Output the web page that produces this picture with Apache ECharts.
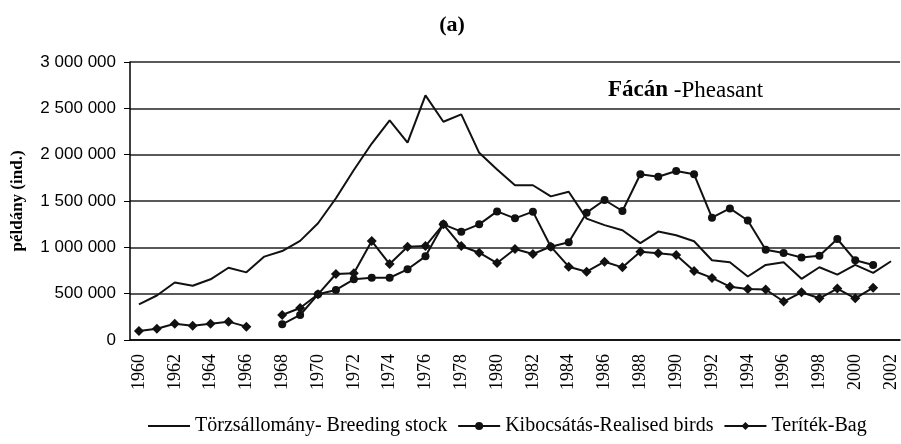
<!DOCTYPE html>
<html>
<head>
<meta charset="utf-8">
<script src="https://cdn.jsdelivr.net/npm/echarts@6/dist/echarts.min.js"></script>
<style>
  html, body { margin: 0; padding: 0; background: #fff; }
  #chart { width: 901px; height: 444px; }
</style>
</head>
<body>
<div id="chart"></div>
<script>
var years = [];
for (var y = 1960; y <= 2002; y++) years.push(String(y));

// Törzsállomány - Breeding stock
var breeding = [385000, 480000, 620000, 585000, 655000, 780000, 730000, 900000, 960000, 1070000,
    1260000, 1530000, 1835000, 2120000, 2370000, 2130000, 2640000, 2355000, 2435000, 2020000,
    1840000, 1670000, 1670000, 1550000, 1600000, 1310000, 1240000, 1185000, 1045000, 1170000,
    1130000, 1065000, 860000, 840000, 685000, 810000, 840000, 660000, 785000, 705000,
    810000, 725000, 850000];

// Kibocsátás - Realised birds
var realised = [null, null, null, null, null, null, null, null, 169000, 270000,
    493000, 540000, 655000, 672000, 672000, 763000, 903000, 1248000, 1169000, 1248000,
    1388000, 1313000, 1385000, 1007000, 1054000, 1374000, 1511000, 1392000, 1788000, 1762000,
    1824000, 1788000, 1320000, 1420000, 1290000, 975000, 940000, 890000, 910000, 1090000,
    860000, 810000, null];

// Teríték - Bag
var bag = [97000, 122000, 176000, 155000, 176000, 198000, 144000, null, 270000, 345000,
    493000, 712000, 720000, 1068000, 820000, 1007000, 1014000, 1248000, 1014000, 942000,
    830000, 982000, 928000, 1007000, 791000, 737000, 845000, 784000, 953000, 935000,
    917000, 745000, 670000, 575000, 550000, 545000, 415000, 515000, 450000, 555000,
    450000, 565000, null];

var serif = '"Liberation Serif", "Times New Roman", serif';

var chart = echarts.init(document.getElementById('chart'));
var option = {
    backgroundColor: '#fff',
    animation: false,
    title: [{
        text: '(a)',
        left: 447,
        top: 9,
        textAlign: 'center',
        textStyle: { fontFamily: serif, fontWeight: 'bold', fontSize: 22, color: '#000' }
    }, {
        text: '{b|Fácán} -Pheasant',
        left: 603,
        top: 74,
        textStyle: {
            fontFamily: serif, fontSize: 23, fontWeight: 'normal', color: '#000',
            rich: { b: { fontFamily: serif, fontSize: 23, fontWeight: 'bold', color: '#000' } }
        }
    }],
    legend: {
        bottom: 3,
        left: 142,
        itemWidth: 42,
        itemHeight: 10,
        itemGap: 10,
        textStyle: { fontFamily: serif, fontSize: 20, color: '#000' },
        data: [
            { name: 'Törzsállomány- Breeding stock', itemStyle: { opacity: 0 } },
            'Kibocsátás-Realised birds',
            'Teríték-Bag'
        ]
    },
    grid: { left: 130, right: 1, top: 62, bottom: 104 },
    xAxis: {
        type: 'category',
        data: years,
        boundaryGap: true,
        axisLine: { lineStyle: { color: '#000', width: 1.5 } },
        axisTick: { interval: 0, length: 6, lineStyle: { color: '#000' } },
        axisLabel: { interval: 1, rotate: 90, margin: 14, fontFamily: serif, fontSize: 18, color: '#000' }
    },
    yAxis: {
        type: 'value',
        min: 0,
        max: 3000000,
        interval: 500000,
        name: 'példány (ind.)',
        nameLocation: 'middle',
        nameGap: 104,
        nameTextStyle: { fontFamily: serif, fontWeight: 'bold', fontSize: 17, color: '#000' },
        axisLine: { show: true, lineStyle: { color: '#000', width: 1.5 } },
        axisTick: { show: true, length: 6, lineStyle: { color: '#000' } },
        axisLabel: {
            margin: 14,
            fontFamily: '"Liberation Sans", Arial, sans-serif',
            fontSize: 17,
            color: '#000',
            formatter: function (v) { return String(v).replace(/\B(?=(\d{3})+(?!\d))/g, ' '); }
        },
        splitLine: { lineStyle: { color: '#222', width: 1.5 } }
    },
    series: [{
        name: 'Törzsállomány- Breeding stock',
        type: 'line',
        data: breeding,
        symbol: 'none',
        lineStyle: { color: '#111', width: 2 },
        itemStyle: { color: '#111' }
    }, {
        name: 'Kibocsátás-Realised birds',
        type: 'line',
        data: realised,
        symbol: 'circle',
        symbolSize: 8,
        lineStyle: { color: '#111', width: 2 },
        itemStyle: { color: '#111' }
    }, {
        name: 'Teríték-Bag',
        type: 'line',
        data: bag,
        symbol: 'diamond',
        symbolSize: 10,
        lineStyle: { color: '#111', width: 2 },
        itemStyle: { color: '#111' }
    }]
};
chart.setOption(option);
</script>
</body>
</html>
